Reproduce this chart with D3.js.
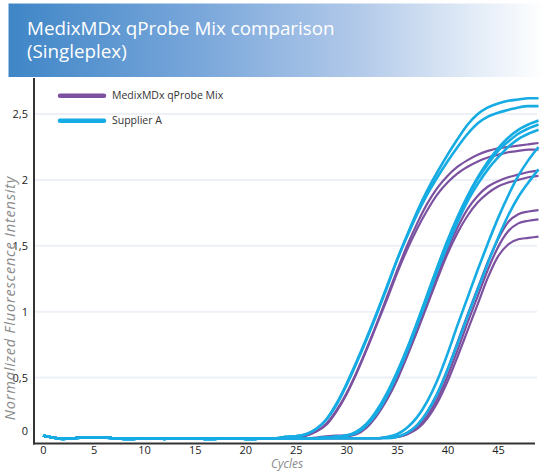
<!DOCTYPE html>
<html>
<head>
<meta charset="utf-8">
<script src="https://cdn.jsdelivr.net/npm/d3@7"></script>
<style>
  body { margin: 0; background: #fff; }
  text { font-family: "Open Sans", "Noto Sans", sans-serif; }
</style>
</head>
<body>
<div id="chart"></div>
<script>
// cycle numbers on the x axis
var cycles = d3.range(0, 50);
var xTicks = [0, 5, 10, 15, 20, 25, 30, 35, 40, 45];
var yTicks = [0, 0.5, 1, 1.5, 2, 2.5];
var yTickLabels = ["0", "0,5", "1", "1,5", "2", "2,5"];
var legendNames = ["MedixMDx qProbe Mix", "Supplier A"];

// flat part of every run, cycles 0..23
var baseline = [0.06, 0.045, 0.035, 0.04, 0.045, 0.045, 0.045, 0.04, 0.035, 0.035, 0.04, 0.04,
                0.035, 0.04, 0.04, 0.04, 0.035, 0.035, 0.04, 0.04, 0.035, 0.035, 0.04, 0.04];

// cycles 24..49 for each run
var medixRuns = [
  [0.045, 0.05, 0.06, 0.09, 0.15, 0.25, 0.38, 0.54, 0.72, 0.91, 1.11, 1.31, 1.50, 1.67, 1.82, 1.94, 2.03, 2.10, 2.15, 2.19, 2.22, 2.24, 2.25, 2.26, 2.27, 2.28],
  [0.045, 0.05, 0.06, 0.09, 0.14, 0.24, 0.37, 0.53, 0.71, 0.90, 1.09, 1.29, 1.47, 1.63, 1.77, 1.89, 1.98, 2.05, 2.10, 2.14, 2.17, 2.19, 2.21, 2.22, 2.23, 2.23],
  [0.04, 0.04, 0.04, 0.045, 0.055, 0.06, 0.06, 0.075, 0.13, 0.22, 0.34, 0.49, 0.67, 0.86, 1.06, 1.27, 1.47, 1.64, 1.78, 1.88, 1.95, 1.99, 2.02, 2.04, 2.06, 2.07],
  [0.04, 0.04, 0.04, 0.04, 0.045, 0.05, 0.055, 0.07, 0.12, 0.21, 0.33, 0.48, 0.66, 0.85, 1.05, 1.25, 1.44, 1.60, 1.73, 1.83, 1.90, 1.95, 1.98, 2.00, 2.02, 2.03],
  [0.04, 0.04, 0.04, 0.04, 0.04, 0.04, 0.04, 0.04, 0.04, 0.04, 0.045, 0.05, 0.08, 0.14, 0.24, 0.38, 0.56, 0.77, 0.98, 1.18, 1.38, 1.55, 1.68, 1.74, 1.76, 1.77],
  [0.04, 0.04, 0.04, 0.04, 0.04, 0.04, 0.04, 0.04, 0.04, 0.04, 0.045, 0.05, 0.07, 0.12, 0.21, 0.34, 0.51, 0.71, 0.92, 1.12, 1.32, 1.49, 1.61, 1.67, 1.69, 1.70],
  [0.04, 0.04, 0.04, 0.04, 0.04, 0.04, 0.04, 0.04, 0.04, 0.04, 0.045, 0.05, 0.07, 0.11, 0.19, 0.31, 0.47, 0.66, 0.86, 1.06, 1.26, 1.42, 1.51, 1.55, 1.56, 1.57]
];
var supplierRuns = [
  [0.05, 0.055, 0.07, 0.11, 0.18, 0.29, 0.44, 0.61, 0.79, 0.98, 1.18, 1.39, 1.58, 1.76, 1.92, 2.06, 2.19, 2.31, 2.42, 2.50, 2.55, 2.58, 2.60, 2.61, 2.62, 2.62],
  [0.05, 0.055, 0.07, 0.11, 0.18, 0.30, 0.45, 0.62, 0.80, 0.99, 1.19, 1.39, 1.57, 1.74, 1.89, 2.02, 2.14, 2.25, 2.35, 2.43, 2.48, 2.51, 2.53, 2.55, 2.56, 2.56],
  [0.04, 0.04, 0.04, 0.04, 0.045, 0.05, 0.06, 0.09, 0.15, 0.25, 0.38, 0.54, 0.72, 0.92, 1.13, 1.34, 1.54, 1.72, 1.88, 2.02, 2.14, 2.24, 2.32, 2.38, 2.42, 2.45],
  [0.04, 0.04, 0.04, 0.04, 0.045, 0.05, 0.06, 0.085, 0.14, 0.24, 0.37, 0.53, 0.71, 0.91, 1.12, 1.33, 1.53, 1.71, 1.87, 2.01, 2.12, 2.22, 2.29, 2.35, 2.39, 2.42],
  [0.04, 0.04, 0.04, 0.04, 0.045, 0.05, 0.06, 0.08, 0.14, 0.23, 0.36, 0.52, 0.70, 0.90, 1.10, 1.31, 1.50, 1.68, 1.84, 1.97, 2.08, 2.17, 2.25, 2.31, 2.35, 2.38],
  [0.04, 0.04, 0.04, 0.04, 0.04, 0.04, 0.04, 0.04, 0.04, 0.04, 0.05, 0.07, 0.12, 0.20, 0.32, 0.48, 0.68, 0.90, 1.11, 1.32, 1.52, 1.71, 1.88, 2.03, 2.15, 2.25],
  [0.04, 0.04, 0.04, 0.04, 0.04, 0.04, 0.04, 0.04, 0.04, 0.04, 0.04, 0.05, 0.08, 0.14, 0.24, 0.38, 0.56, 0.76, 0.97, 1.17, 1.37, 1.56, 1.73, 1.87, 1.98, 2.08]
];

var purple = "#7b51a0",
    cyan = "#16ace3";

var width = 545, height = 471;

var svg = d3.select("#chart")
    .append("svg")
    .attr("width", width)
    .attr("height", height);

// header banner
var defs = svg.append("defs");
var grad = defs.append("linearGradient").attr("id", "banner");
grad.append("stop").attr("offset", "0%").attr("stop-color", "#3f86c7");
grad.append("stop").attr("offset", "35%").attr("stop-color", "#78a6da");
grad.append("stop").attr("offset", "65%").attr("stop-color", "#b1c9e9");
grad.append("stop").attr("offset", "85%").attr("stop-color", "#dfe9f6");
grad.append("stop").attr("offset", "100%").attr("stop-color", "#ffffff");

svg.append("rect")
    .attr("x", 8.5).attr("y", 3.5)
    .attr("width", width - 8.5).attr("height", 73.5)
    .attr("fill", "url(#banner)");

var title = svg.append("text")
    .attr("x", 27)
    .attr("y", 34.5)
    .style("font-size", "18.8px")
    .style("fill", "#fff");
title.append("tspan").attr("x", 27).text("MedixMDx qProbe Mix comparison");
title.append("tspan").attr("x", 27).attr("dy", 23).text("(Singleplex)");

// scales
var x = d3.scaleLinear().domain([0, 49]).range([43, 538.5]);
var y = d3.scaleLinear().domain([0, 2.5]).range([443.5, 114]);

// grid lines
svg.append("g")
    .selectAll("line")
    .data(yTicks.filter(function(d) { return d > 0; }))
    .enter().append("line")
    .attr("x1", 35).attr("x2", 537)
    .attr("y1", function(d) { return y(d); })
    .attr("y2", function(d) { return y(d); })
    .attr("stroke", "#edf1f7")
    .attr("stroke-width", 2);

// Y axis
var yAxis = svg.append("g")
    .attr("transform", "translate(34,0)")
    .call(d3.axisLeft(y)
        .tickValues(yTicks)
        .tickSize(0)
        .tickPadding(6)
        .tickFormat(function(d, i) { return yTickLabels[i]; }));
yAxis.select(".domain").remove();
yAxis.selectAll("text")
    .style("font-size", "11px")
    .style("fill", "#222")
    .style("font-family", "'Open Sans', sans-serif");
yAxis.selectAll(".tick")
    .filter(function(d) { return d === 0; })
    .select("text")
    .attr("dy", "-0.8em");

// X axis
var xAxis = svg.append("g")
    .attr("transform", "translate(0," + y(0) + ")")
    .call(d3.axisBottom(x)
        .tickValues(xTicks)
        .tickSize(0)
        .tickPadding(3));
xAxis.select(".domain").remove();
xAxis.selectAll("text")
    .style("font-size", "11px")
    .style("fill", "#222")
    .style("font-family", "'Open Sans', sans-serif");

// curves
var line = d3.line()
    .x(function(d) { return x(d.c); })
    .y(function(d) { return y(d.v); })
    .curve(d3.curveMonotoneX);

function toPoints(run) {
    var vals = baseline.concat(run);
    return cycles.map(function(c, i) { return {c: c, v: vals[i]}; });
}

svg.append("g").selectAll("path")
    .data(medixRuns)
    .enter().append("path")
    .attr("d", function(d) { return line(toPoints(d)); })
    .attr("fill", "none")
    .attr("stroke", purple)
    .attr("stroke-width", 2.2);

svg.append("g").selectAll("path")
    .data(supplierRuns)
    .enter().append("path")
    .attr("d", function(d) { return line(toPoints(d)); })
    .attr("fill", "none")
    .attr("stroke", cyan)
    .attr("stroke-width", 2.6);

// axis lines
svg.append("line")
    .attr("x1", 34).attr("x2", 34)
    .attr("y1", 78).attr("y2", 444.5)
    .attr("stroke", "#333").attr("stroke-width", 2);
svg.append("line")
    .attr("x1", 33).attr("x2", 535)
    .attr("y1", 443.5).attr("y2", 443.5)
    .attr("stroke", "#333").attr("stroke-width", 2);

// legend
var legend = svg.append("g").selectAll("g")
    .data(legendNames)
    .enter().append("g")
    .attr("transform", function(d, i) { return "translate(0," + (95.7 + i * 25) + ")"; });
legend.append("line")
    .attr("x1", 60).attr("x2", 104)
    .attr("stroke", function(d, i) { return i === 0 ? purple : cyan; })
    .attr("stroke-width", 4.5)
    .attr("stroke-linecap", "round");
legend.append("text")
    .attr("x", 112)
    .attr("dy", "0.35em")
    .style("font-size", "10.5px")
    .style("fill", "#333")
    .text(function(d) { return d; });

// axis titles
svg.append("text")
    .attr("transform", "translate(14.5,298) rotate(-90)")
    .attr("text-anchor", "middle")
    .style("font-size", "14.5px")
    .style("letter-spacing", "0.8px")
    .style("font-style", "italic")
    .style("fill", "#8a8a8a")
    .text("Normalized Fluorescence Intensity");

svg.append("text")
    .attr("x", 287)
    .attr("y", 467.5)
    .attr("text-anchor", "middle")
    .style("font-size", "12px")
    .style("font-style", "italic")
    .style("fill", "#8a8a8a")
    .text("Cycles");
</script>
</body>
</html>
